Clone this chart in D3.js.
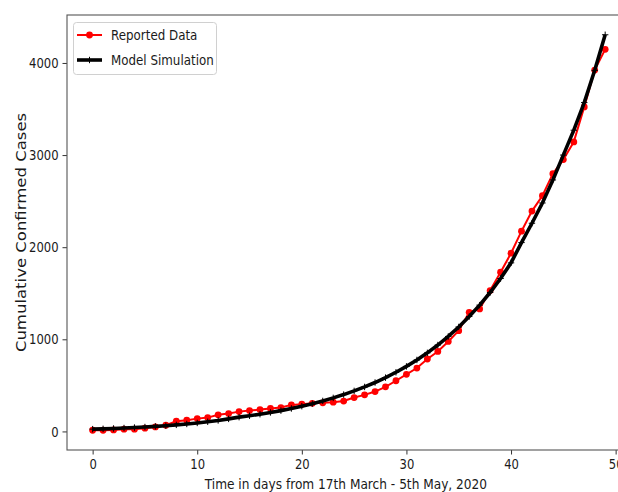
<!DOCTYPE html>
<html><head><meta charset="utf-8">
<script src="https://cdn.jsdelivr.net/npm/d3@7"></script>
<style>body{margin:0;background:#fff}svg{display:block}</style>
</head><body>
<svg id="c" width="618" height="492"></svg>
<script>
const days = [0,1,2,3,4,5,6,7,8,9,10,11,12,13,14,15,16,17,18,19,20,21,22,23,24,25,26,27,28,29,30,31,32,33,34,35,36,37,38,39,40,41,42,43,44,45,46,47,48,49];
const reported = [13,13,16,24,24,35,49,67,111,122,139,150,180,194,215,226,237,250,259,288,296,305,310,318,330,368,397,433,484,550,620,688,786,868,977,1094,1293,1330,1529,1728,1935,2174,2392,2559,2798,2951,3143,3523,3923,4148];
const model = [25,28,32,37,42,48,55,62,71,81,92,105,119,136,155,170,187,206,226,249,274,301,331,364,400,440,483,531,584,642,706,776,853,938,1031,1134,1247,1371,1508,1660,1830,2050,2260,2480,2730,3000,3270,3570,3920,4306];
const xTicks = [0,10,20,30,40,50];
const yTicks = [0,1000,2000,3000,4000];
const seriesNames = ["Reported Data","Model Simulation"];
const xLabel = "Time in days from 17th March - 5th May, 2020";
const yLabel = "Cumulative Confirmed Cases";

const SX = 0.8; // horizontal text compression seen in reference
const FONT = "DejaVu Sans";
const svg = d3.select("#c");
const L = 67, R = 630.8, T = 15, B = 450;

const x = d3.scaleLinear().domain([-2.45, 51.45]).range([L, R]);
const all = reported.concat(model);
const lo = d3.min(all), hi = d3.max(all), pad = 0.05*(hi-lo);
const y = d3.scaleLinear().domain([lo-pad, hi+pad]).range([B, T]);

// axes
const gx = svg.append("g").attr("transform", `translate(0,${B})`)
  .call(d3.axisBottom(x).tickValues(xTicks).tickSize(4.5).tickPadding(4).tickFormat(d3.format("d")));
const gy = svg.append("g").attr("transform", `translate(${L},0)`)
  .call(d3.axisLeft(y).tickValues(yTicks).tickSize(4.5).tickPadding(4).tickFormat(d3.format("d")));
[gx, gy].forEach(g => {
  g.select(".domain").remove();
  g.selectAll(".tick line").attr("stroke", "#333").attr("stroke-width", 1);
  g.selectAll(".tick text").attr("font-family", FONT).attr("font-size", 14.5).attr("fill", "#1a1a1a")
    .attr("transform", `scale(${SX},1)`);
});
gy.selectAll(".tick text").attr("x", -8.5/SX);

// spines
svg.append("rect").attr("x", L).attr("y", T).attr("width", R-L).attr("height", B-T)
  .attr("fill", "none").attr("stroke", "#555").attr("stroke-width", 1.1);

// lines
const line = d3.line().x((d,i) => x(days[i])).y(d => y(d));
svg.append("path").datum(reported).attr("d", line).attr("fill", "none")
  .attr("stroke", "#ff0000").attr("stroke-width", 2);
svg.append("g").selectAll("circle").data(reported).join("circle")
  .attr("cx", (d,i) => x(days[i])).attr("cy", d => y(d)).attr("r", 3.4).attr("fill", "#ff0000");
svg.append("path").datum(model).attr("d", line).attr("fill", "none")
  .attr("stroke", "#000").attr("stroke-width", 3.6);
svg.append("g").selectAll("path").data(model).join("path")
  .attr("d", (d,i) => { const cx = x(days[i]), cy = y(d), s = 3.2; return `M${cx-s},${cy}H${cx+s}M${cx},${cy-s}V${cy+s}`; })
  .attr("stroke", "#000").attr("stroke-width", 1);

// axis labels
svg.append("g").attr("transform", `translate(${(L+R)/2 - 3},489) scale(0.84,1)`)
  .append("text").attr("text-anchor", "middle").attr("font-family", FONT).attr("font-size", 14.5).attr("fill", "#1a1a1a")
  .text(xLabel);
svg.append("g").attr("transform", `translate(26,${(T+B)/2 + 0}) scale(${SX},1) rotate(-90)`)
  .append("text").attr("text-anchor", "middle").attr("font-family", FONT).attr("font-size", 16.5).attr("fill", "#1a1a1a")
  .text(yLabel);

// legend
const lg = svg.append("g");
lg.append("rect").attr("x", 73.5).attr("y", 22.5).attr("width", 143).attr("height", 52).attr("rx", 3)
  .attr("fill", "#fff").attr("fill-opacity", 0.8).attr("stroke", "#d0d0d0");
const ly = [35, 60];
lg.append("line").attr("x1", 77).attr("x2", 102).attr("y1", ly[0]).attr("y2", ly[0]).attr("stroke", "#ff0000").attr("stroke-width", 2);
lg.append("circle").attr("cx", 89.5).attr("cy", ly[0]).attr("r", 3.4).attr("fill", "#ff0000");
lg.append("line").attr("x1", 77).attr("x2", 102).attr("y1", ly[1]).attr("y2", ly[1]).attr("stroke", "#000").attr("stroke-width", 3.6);
lg.append("path").attr("d", `M86.3,${ly[1]}H92.7M89.5,${ly[1]-3.2}V${ly[1]+3.2}`).attr("stroke", "#000");
seriesNames.forEach((n,i) => {
  lg.append("g").attr("transform", `translate(111,${ly[i]}) scale(0.82,1)`)
    .append("text").attr("dy", "0.35em").attr("font-family", FONT).attr("font-size", 14.5).attr("fill", "#1a1a1a").text(n);
});
</script>
</body></html>
